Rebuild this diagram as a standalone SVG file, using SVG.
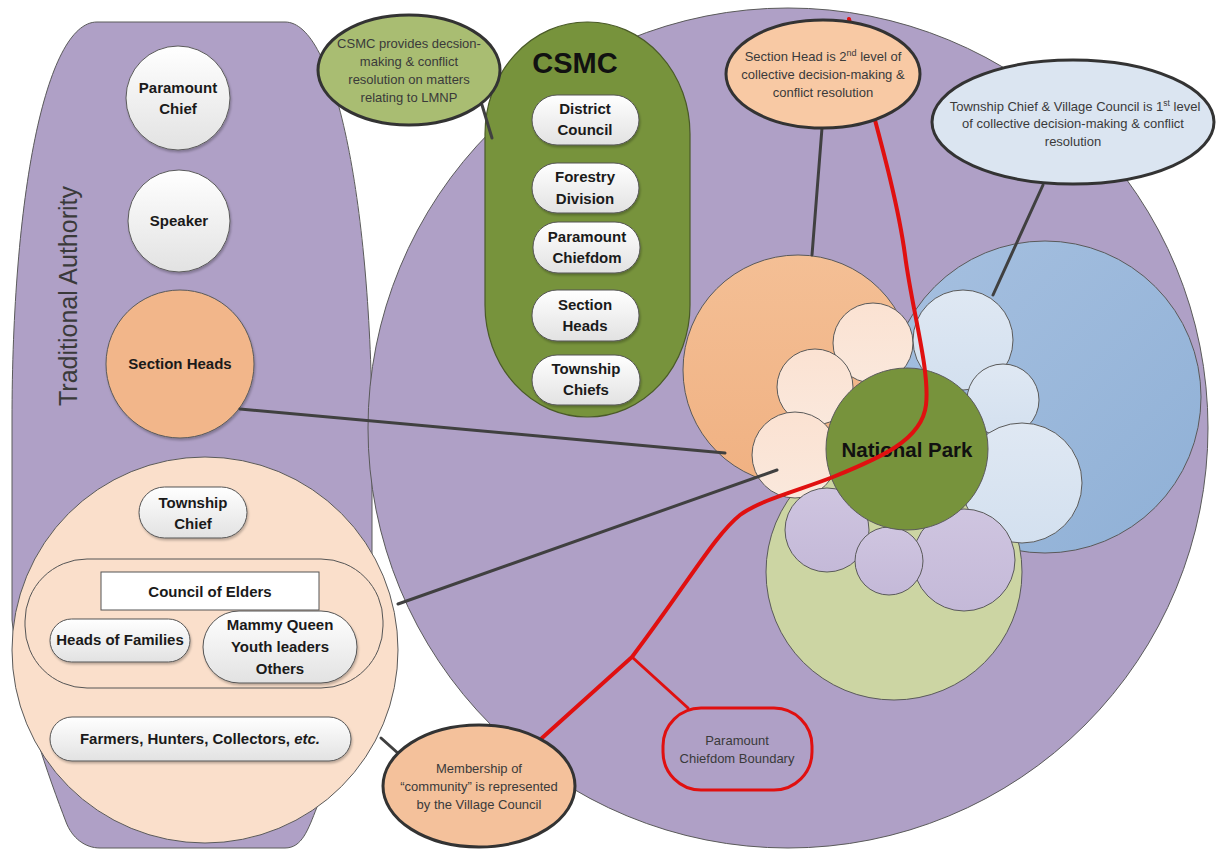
<svg xmlns="http://www.w3.org/2000/svg" width="1216" height="850" viewBox="0 0 1216 850">
<defs>
<style>
text { font-family: "Liberation Sans", Arial, sans-serif; }
.b { font-weight: bold; fill: #1a1a1a; font-size: 15px; text-anchor: middle; }
.c { font-size: 13px; fill: #3a3a3a; text-anchor: middle; }
.ol { stroke: #5a5a5a; stroke-width: 1; }
.call { stroke: #333333; stroke-width: 3; }
.conn { stroke: #404040; stroke-width: 3; fill: none; stroke-linecap: round; }
.pill { fill: url(#gW); stroke: #555555; stroke-width: 1; filter: url(#sh); }
.red { stroke: #e01010; fill: none; stroke-linecap: round; }
</style>
<linearGradient id="gW" x1="0" y1="0" x2="0" y2="1"><stop offset="0" stop-color="#ffffff"/><stop offset="1" stop-color="#e2e2e2"/></linearGradient>
<linearGradient id="gO" x1="0" y1="0" x2="0" y2="1"><stop offset="0" stop-color="#f4bf95"/><stop offset="1" stop-color="#f0b182"/></linearGradient>
<linearGradient id="gP" x1="0" y1="0" x2="0" y2="1"><stop offset="0" stop-color="#fbe2d2"/><stop offset="1" stop-color="#fae8dc"/></linearGradient>
<linearGradient id="gB" x1="0" y1="0" x2="1" y2="1"><stop offset="0" stop-color="#a6c0e0"/><stop offset="1" stop-color="#8fb0d6"/></linearGradient>
<linearGradient id="gLB" x1="0" y1="0" x2="0" y2="1"><stop offset="0" stop-color="#dfe8f3"/><stop offset="1" stop-color="#d3e0ef"/></linearGradient>
<linearGradient id="gL" x1="0" y1="0" x2="0" y2="1"><stop offset="0" stop-color="#cfc5e0"/><stop offset="1" stop-color="#c4b9d8"/></linearGradient>
<filter id="sh" x="-20%" y="-20%" width="140%" height="150%"><feDropShadow dx="1" dy="2" stdDeviation="1.2" flood-color="#000" flood-opacity="0.25"/></filter>
</defs>

<!-- Traditional Authority panel -->
<g id="traditional-authority">
<path d="M 97 22 L 285 22 C 335 22 370 200 372 420 L 372 560 C 372 680 335 765 317 807 C 308 830 302 848 285 848 L 100 848 C 85 848 72 838 66 822 C 50 780 20 700 12 620 L 12 420 C 12 200 45 22 97 22 Z" fill="#afa0c6" class="ol"/>
<text x="0" y="0" transform="translate(77 296) rotate(-90)" font-size="25" fill="#3a3a3a" text-anchor="middle">Traditional Authority</text>
</g>

<!-- Big purple circle -->
<g id="chiefdom-area">
<circle cx="788" cy="428" r="420" fill="#afa0c6" class="ol"/>
</g>

<g id="paramount-chief">
<circle cx="178" cy="98" r="52" fill="url(#gW)" class="ol" filter="url(#sh)"/>
<text class="b" x="178" y="93">Paramount</text>
<text class="b" x="178" y="114">Chief</text>
</g>
<g id="speaker">
<circle cx="179" cy="221" r="51" fill="url(#gW)" class="ol" filter="url(#sh)"/>
<text class="b" x="179" y="226">Speaker</text>
</g>
<g id="section-heads">
<circle cx="180" cy="364" r="74" fill="#f2b68a" class="ol" filter="url(#sh)"/>
<text class="b" x="180" y="369">Section Heads</text>
</g>

<!-- Community circle -->
<g id="community">
<circle cx="205" cy="650" r="193" fill="#fadfcb" class="ol"/>
<g id="township-chief">
<rect x="139" y="487" width="108" height="51" rx="25.5" class="pill"/>
<text class="b" x="193" y="508">Township</text>
<text class="b" x="193" y="529">Chief</text>
</g>
<g id="village-council">
<rect x="25" y="559" width="358" height="129" rx="62" fill="none" stroke="#555" stroke-width="1"/>
</g>
<g id="council-of-elders">
<rect x="101" y="572" width="218" height="38" fill="#ffffff" stroke="#555" stroke-width="1"/>
<text class="b" x="210" y="597">Council of Elders</text>
</g>
<g id="heads-of-families">
<rect x="50" y="619" width="140" height="43" rx="21.5" class="pill"/>
<text class="b" x="120" y="645">Heads of Families</text>
</g>
<g id="mammy-queen">
<rect x="203" y="611" width="154" height="72" rx="36" class="pill"/>
<text class="b" x="280" y="630">Mammy Queen</text>
<text class="b" x="280" y="652">Youth leaders</text>
<text class="b" x="280" y="674">Others</text>
</g>
<g id="farmers">
<rect x="50" y="717" width="301" height="44" rx="22" class="pill"/>
<text class="b" x="200" y="744">Farmers, Hunters, Collectors, <tspan font-style="italic">etc.</tspan></text>
</g>
</g>

<!-- CSMC -->
<g id="csmc">
<rect x="485" y="22" width="205" height="395" rx="102" ry="112" fill="#77933c" stroke="#4a5a28" stroke-width="1.2"/>
<text x="575" y="73" font-size="29" font-weight="bold" fill="#111" text-anchor="middle">CSMC</text>
<g id="district-council"><rect x="532" y="95" width="107" height="50" rx="25" class="pill"/>
<text class="b" x="585" y="114">District</text><text class="b" x="585" y="135">Council</text></g>
<g id="forestry-division"><rect x="532" y="163" width="107" height="50" rx="25" class="pill"/>
<text class="b" x="585" y="182">Forestry</text><text class="b" x="585" y="204">Division</text></g>
<g id="paramount-chiefdom"><rect x="533" y="222" width="107" height="51" rx="25" class="pill"/>
<text class="b" x="587" y="242">Paramount</text><text class="b" x="587" y="263">Chiefdom</text></g>
<g id="csmc-section-heads"><rect x="532" y="290" width="107" height="51" rx="25" class="pill"/>
<text class="b" x="585" y="310">Section</text><text class="b" x="585" y="331">Heads</text></g>
<g id="township-chiefs"><rect x="532" y="355" width="108" height="50" rx="25" class="pill"/>
<text class="b" x="586" y="374">Township</text><text class="b" x="586" y="395">Chiefs</text></g>
</g>

<!-- Central cluster -->
<g id="section-area"><circle cx="798" cy="370" r="115" fill="url(#gO)" class="ol"/></g>
<g id="township-area"><circle cx="1045" cy="397" r="156" fill="url(#gB)" class="ol"/></g>
<g id="village-area"><circle cx="894" cy="572" r="128" fill="#ccd5a3" class="ol"/></g>
<g id="peach-villages">
<circle cx="873" cy="343" r="40" fill="url(#gP)" class="ol"/>
<circle cx="815" cy="387" r="38" fill="url(#gP)" class="ol"/>
<circle cx="795" cy="455" r="43" fill="url(#gP)" class="ol"/>
</g>
<g id="blue-villages">
<circle cx="963" cy="340" r="50" fill="url(#gLB)" class="ol"/>
<circle cx="1003" cy="400" r="36" fill="url(#gLB)" class="ol"/>
<circle cx="1022" cy="483" r="60" fill="url(#gLB)" class="ol"/>
</g>
<g id="lavender-villages">
<circle cx="827" cy="530" r="42" fill="url(#gL)" class="ol"/>
<circle cx="964" cy="560" r="51" fill="url(#gL)" class="ol"/>
<circle cx="889" cy="561" r="34" fill="url(#gL)" class="ol"/>
</g>
<g id="national-park">
<circle cx="907" cy="449" r="81" fill="#77933c" class="ol"/>
<text x="907" y="457" font-size="20.5" font-weight="bold" fill="#111" text-anchor="middle">National Park</text>
</g>

<!-- Connectors -->
<g id="connectors">
<path class="red" stroke-width="4" d="M 849 19 C 862 80 895 180 905 255 C 912 310 930 370 926 405 C 922 440 880 458 833 477 C 800 490 760 500 740 515 C 715 535 690 580 632 657 L 542 738"/>
<line class="red" stroke-width="3" x1="632" y1="657" x2="688" y2="708"/>
<line class="conn" x1="240" y1="409" x2="725" y2="453"/>
<line class="conn" x1="398" y1="604" x2="777" y2="470"/>
<line class="conn" x1="381" y1="738" x2="400" y2="755"/>
<line class="conn" x1="482" y1="105" x2="492" y2="138"/>
<line class="conn" x1="822" y1="128" x2="812" y2="255"/>
<line class="conn" x1="1043" y1="185" x2="993" y2="295"/>
</g>

<!-- Callouts -->
<g id="csmc-callout">
<ellipse cx="409" cy="70" rx="91" ry="55" fill="#a9bd72" class="call"/>
<text class="c" x="409" y="48">CSMC provides decsion-</text>
<text class="c" x="409" y="66">making &amp; conflict</text>
<text class="c" x="409" y="84">resolution on matters</text>
<text class="c" x="409" y="102">relating to LMNP</text>
</g>
<g id="section-head-callout">
<ellipse cx="823" cy="74" rx="97" ry="54" fill="#f8c9a4" class="call"/>
<text class="c" x="823" y="61">Section Head is 2<tspan font-size="9" dy="-5">nd</tspan><tspan dy="5"> level of</tspan></text>
<text class="c" x="823" y="79">collective decision-making &amp;</text>
<text class="c" x="823" y="97">conflict resolution</text>
</g>
<g id="township-callout">
<ellipse cx="1073" cy="122" rx="141" ry="62" fill="#dbe5f1" class="call"/>
<text class="c" x="1075" y="111" font-size="12.5">Township Chief &amp; Village Council is 1<tspan font-size="8.5" dy="-5">st</tspan><tspan dy="5"> level</tspan></text>
<text class="c" x="1073" y="128" font-size="12.5">of collective decision-making &amp; conflict</text>
<text class="c" x="1073" y="146" font-size="12.5">resolution</text>
</g>
<g id="membership-callout">
<ellipse cx="479" cy="786" rx="96" ry="61" fill="#f4c19b" class="call"/>
<text class="c" x="479" y="773">Membership of</text>
<text class="c" x="479" y="791">“community” is represented</text>
<text class="c" x="479" y="809">by the Village Council</text>
</g>
<g id="boundary-label">
<rect x="663" y="708" width="149" height="82" rx="38" fill="#afa0c6" stroke="#e01010" stroke-width="3"/>
<text class="c" x="737" y="745" fill="#2e2e48">Paramount</text>
<text class="c" x="737" y="763" fill="#2e2e48">Chiefdom Boundary</text>
</g>
</svg>
